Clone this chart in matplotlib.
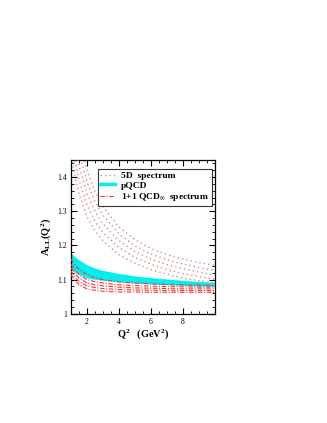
import matplotlib
matplotlib.use("Agg")
import matplotlib.pyplot as plt
from matplotlib.ticker import MultipleLocator, FixedLocator, FixedFormatter

plt.rcParams['font.family'] = ['Liberation Serif', 'DejaVu Serif']
plt.rcParams['mathtext.fontset'] = 'custom'
plt.rcParams['mathtext.rm'] = 'Liberation Serif:bold'
plt.rcParams['mathtext.it'] = 'Liberation Serif:bold'
plt.rcParams['mathtext.bf'] = 'Liberation Serif:bold'

# ---- data ----
q2 = [1.0, 1.25, 1.5, 2, 2.5, 3, 4, 5, 6, 7, 8, 9, 10]

spec5d_1 = [1.470, 1.400, 1.351, 1.285, 1.243, 1.213, 1.173, 1.148, 1.129, 1.116, 1.105, 1.097, 1.090]
spec5d_2 = [1.525, 1.447, 1.392, 1.319, 1.271, 1.238, 1.194, 1.165, 1.145, 1.129, 1.118, 1.109, 1.101]
spec5d_3 = [1.580, 1.494, 1.433, 1.352, 1.300, 1.263, 1.214, 1.182, 1.160, 1.144, 1.132, 1.122, 1.113]
spec5d_4 = [1.635, 1.541, 1.474, 1.386, 1.328, 1.288, 1.234, 1.199, 1.175, 1.158, 1.146, 1.136, 1.127]
spec5d_5 = [1.690, 1.588, 1.515, 1.419, 1.357, 1.313, 1.254, 1.217, 1.191, 1.173, 1.160, 1.150, 1.142]

pqcd_hi = [1.178, 1.167, 1.158, 1.143, 1.134, 1.127, 1.118, 1.111, 1.106, 1.102, 1.098, 1.095, 1.092]
pqcd_lo = [1.130, 1.122, 1.115, 1.105, 1.101, 1.098, 1.094, 1.090, 1.087, 1.085, 1.083, 1.081, 1.080]

qcd11_1 = [1.160, 1.143, 1.130, 1.115, 1.106, 1.100, 1.093, 1.090, 1.088, 1.086, 1.085, 1.084, 1.083]
qcd11_2 = [1.145, 1.128, 1.115, 1.100, 1.094, 1.090, 1.085, 1.083, 1.081, 1.080, 1.079, 1.078, 1.078]
qcd11_3 = [1.135, 1.118, 1.105, 1.090, 1.085, 1.082, 1.078, 1.076, 1.075, 1.074, 1.073, 1.073, 1.073]
qcd11_4 = [1.125, 1.108, 1.095, 1.082, 1.077, 1.074, 1.071, 1.070, 1.069, 1.068, 1.068, 1.068, 1.068]
qcd11_5 = [1.115, 1.098, 1.085, 1.073, 1.069, 1.066, 1.064, 1.064, 1.063, 1.063, 1.063, 1.063, 1.063]

spec5d = [spec5d_1, spec5d_2, spec5d_3, spec5d_4, spec5d_5]
qcd11 = [qcd11_1, qcd11_2, qcd11_3, qcd11_4, qcd11_5]

xticks = [2, 4, 6, 8]
yticks = [1.0, 1.1, 1.2, 1.3, 1.4]
ytick_labels = ['1', '1.1', '1.2', '1.3', '1.4']

# ---- figure ----
fig = plt.figure(figsize=(3.27, 4.23), dpi=100)
ax = fig.add_axes([0.217, 0.258, 0.440, 0.364])

col5d = '#d98a8a'
colred = '#ff3030'
colcyan = '#00f0f0'

ax.fill_between(q2, pqcd_lo, pqcd_hi, color=colcyan, lw=0, zorder=2)
for i, s in enumerate(spec5d):
    ax.plot(q2, s, ls=(0, (1, 2.2)), color=col5d, lw=1.0, zorder=3,
            label='5D  spectrum' if i == 0 else None)
ax.plot([], [], color=colcyan, lw=2.5, label='pQCD')
for i, s in enumerate(qcd11):
    ax.plot(q2, s, ls=(0, (4, 1.5, 1, 1.5)), color=colred, lw=0.8, zorder=4,
            label=r'1+1 QCD$_{\infty}$  spectrum' if i == 0 else None)

ax.set_xlim(1, 10)
ax.set_ylim(1.0, 1.45)
ax.xaxis.set_major_locator(FixedLocator(xticks))
ax.xaxis.set_minor_locator(MultipleLocator(0.5))
ax.yaxis.set_major_locator(FixedLocator(yticks))
ax.yaxis.set_major_formatter(FixedFormatter(ytick_labels))
ax.yaxis.set_minor_locator(MultipleLocator(0.02))
ax.tick_params(which='both', direction='in', top=True, right=True, labelsize=5.5, pad=3)
ax.tick_params(which='major', length=4, width=0.8)
ax.tick_params(which='minor', length=2, width=0.6)
for sp in ax.spines.values():
    sp.set_linewidth(0.9)

ax.set_xlabel(r'Q$^2$   (GeV$^2$)', fontsize=7.5, fontweight='bold', labelpad=1)
ax.set_ylabel(r'A$_{\rm LL}$(Q$^2$)', fontsize=7.5, fontweight='bold', labelpad=3)

leg = ax.legend(loc='upper right', bbox_to_anchor=(0.98, 0.944),
                prop={'weight': 'bold', 'size': 6.8}, frameon=True, fancybox=False,
                edgecolor='black', handlelength=1.5, borderpad=0.3, labelspacing=0.12,
                handletextpad=0.7, borderaxespad=0.0)
leg.get_frame().set_linewidth(0.8)

fig.savefig('out.png', dpi=100)
